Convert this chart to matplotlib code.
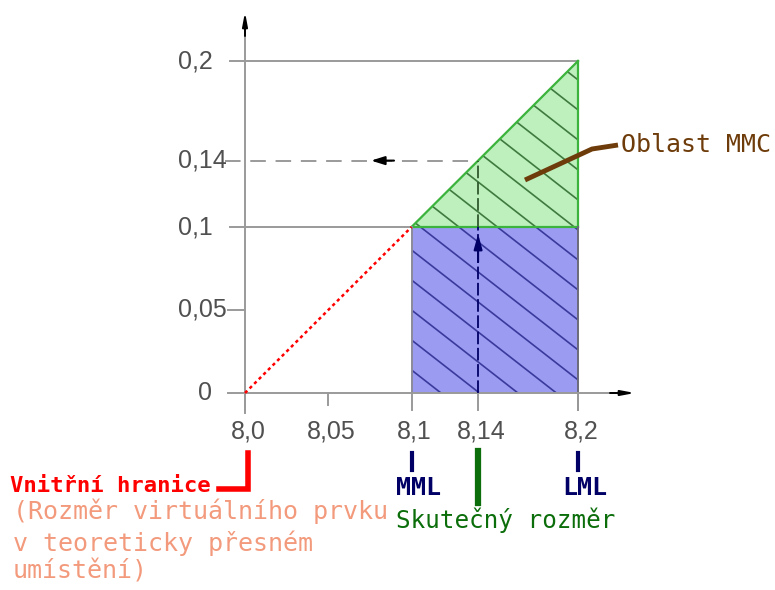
import numpy as np
import matplotlib.pyplot as plt
from matplotlib.patches import Polygon

# Data: dimension values (x) and position tolerance (y)
x_ticks = [8.0, 8.05, 8.1, 8.14, 8.2]
x_labels = ['8,0', '8,05', '8,1', '8,14', '8,2']
y_ticks = [0, 0.05, 0.1, 0.14, 0.2]
y_labels = ['0', '0,05', '0,1', '0,14', '0,2']
inner_limit = 8.0      # Vnitřní hranice
mml = 8.1              # MML
lml = 8.2              # LML
actual = 8.14          # Skutečný rozměr
tol_base = 0.1         # tolerance at MML
tol_max = 0.2          # tolerance at LML
tol_actual = 0.14      # tolerance at actual size

# Colors
grid_col = '#9a9a9a'
blue_fill = '#9b9bf2'
green_fill = '#bdf0bd'
green_edge = '#3cb33c'
navy = '#000066'
dark_green = '#0b6e0b'
brown = '#6e3c0a'
salmon = '#f39a7c'
label_col = '#505050'

W, H = 775, 590
fig = plt.figure(figsize=(W / 100, H / 100), dpi=100)
ax = fig.add_axes([0, 0, 1, 1])

# pixel -> data mapping (x: 8.0 at px 245, 8.2 at px 578; y: 0 at px 393, 0.2 at px 61)
sx = (578 - 245) / 0.2
sy = (393 - 61) / 0.2
def px2x(p):
    return inner_limit + (p - 245) / sx
def px2y(p):
    return (393 - p) / sy

ax.set_xlim(px2x(0), px2x(W))
ax.set_ylim(px2y(H), px2y(0))
ax.axis('off')

# Tolerance zones
blue = Polygon([(mml, 0), (lml, 0), (lml, tol_base), (mml, tol_base)],
               closed=True, facecolor=blue_fill, edgecolor='none', zorder=2)
green = Polygon([(mml, tol_base), (lml, tol_base), (lml, tol_max)],
                closed=True, facecolor=green_fill, edgecolor='none', zorder=2)
ax.add_patch(blue)
ax.add_patch(green)

# Hatching lines (clipped to each zone)
slope = -0.78 * sx / sy
spacing = 30 / sy
offsets = px2y(250) + spacing * np.arange(-7, 14)
xs = np.array([mml - 0.01, lml + 0.01])
for c in offsets:
    ys = c + slope * (xs - mml)
    l1, = ax.plot(xs, ys, color='#3a3a9c', lw=1.2, zorder=3)
    l1.set_clip_path(blue)
    l2, = ax.plot(xs, ys, color='#3f7a3f', lw=1.2, zorder=3)
    l2.set_clip_path(green)

# Zone edges
ax.plot([mml, lml], [tol_base, tol_max], color=green_edge, lw=1.6, zorder=4)
ax.plot([mml, lml], [tol_base, tol_base], color=green_edge, lw=1.6, zorder=4)
ax.plot([lml, lml], [tol_base, tol_max], color=green_edge, lw=1.6, zorder=4)
ax.plot([mml, mml], [0, tol_base], color='#8a8a9a', lw=1.4, zorder=4)
ax.plot([lml, lml], [px2y(410), tol_base], color='#6a6a7a', lw=1.4, zorder=4)

# Grid lines
ax.plot([px2x(230), lml], [tol_max, tol_max], color=grid_col, lw=1.4, zorder=1)
ax.plot([px2x(230), mml], [tol_base, tol_base], color=grid_col, lw=1.4, zorder=1)
ax.plot([px2x(228), inner_limit], [0.05, 0.05], color=grid_col, lw=1.4, zorder=1)
ax.plot([px2x(225), actual], [tol_actual, tol_actual], color=grid_col, lw=1.4,
        ls=(0, (8, 5)), zorder=1)

# Axes lines with black arrow heads
ax.plot([inner_limit, inner_limit], [px2y(410), px2y(30)], color=grid_col, lw=1.4, zorder=4)
ax.plot([px2x(228), px2x(615)], [0, 0], color=grid_col, lw=1.4, zorder=4)
ax.annotate('', xy=(inner_limit, px2y(12)), xytext=(inner_limit, px2y(36)),
            arrowprops=dict(arrowstyle='-|>,head_length=0.8,head_width=0.15',
                            color='black', lw=1.4, shrinkA=0, shrinkB=0), zorder=6)
ax.annotate('', xy=(px2x(635), 0), xytext=(px2x(610), 0),
            arrowprops=dict(arrowstyle='-|>,head_length=0.8,head_width=0.15',
                            color='black', lw=1.4, shrinkA=0, shrinkB=0), zorder=6)

# Tick marks below x axis
tick_ends = [413, 405, 410, 410, 410]
for xv, te in zip(x_ticks, tick_ends):
    ax.plot([xv, xv], [0, px2y(te)], color=grid_col, lw=1.4, zorder=4)

# Red dotted line from inner limit to MML
ax.plot([inner_limit, mml], [0, tol_base], color='red', lw=1.8,
        ls=(0, (1.3, 1.3)), zorder=5)

# Actual size: vertical dashed line and arrows
ax.plot([actual, actual], [0, tol_base], color=navy, lw=1.3, ls=(0, (7, 2)), zorder=5)
ax.plot([actual, actual], [tol_base, tol_actual], color='#2f5a2f', lw=1.3,
        ls=(0, (7, 2)), zorder=5)
ax.annotate('', xy=(actual, px2y(234)), xytext=(actual, px2y(262)),
            arrowprops=dict(arrowstyle='-|>,head_length=0.9,head_width=0.25',
                            color=navy, lw=1.5, shrinkA=0, shrinkB=0), zorder=6)
ax.annotate('', xy=(px2x(371), tol_actual), xytext=(px2x(394), tol_actual),
            arrowprops=dict(arrowstyle='-|>,head_length=0.8,head_width=0.25',
                            color='black', lw=1.5, shrinkA=0, shrinkB=0), zorder=6)

# Tick labels
tick_font = ['Liberation Sans', 'DejaVu Sans']
for xv, lab in zip(x_ticks, x_labels):
    ax.text(xv + 3 / sx, px2y(432), lab, ha='center', va='center',
            fontsize=18, color=label_col, family=tick_font)
for yv, lab in zip(y_ticks, y_labels):
    if lab == '0':
        ax.text(px2x(205), yv, lab, ha='center', va='center',
                fontsize=18, color=label_col, family=tick_font)
    else:
        ax.text(px2x(178), yv, lab, ha='left', va='center',
                fontsize=18, color=label_col, family=tick_font)

# Annotations below the chart
mono = ['DejaVu Sans Mono']
ax.plot([px2x(219), px2x(248), px2x(248)], [px2y(489), px2y(489), px2y(453)],
        color='red', lw=4, solid_joinstyle='miter', zorder=5)
ax.text(px2x(10), px2y(486), 'Vnitřní hranice', ha='left', va='center',
        fontsize=16, color='red', family=mono, fontweight='bold')
ax.text(px2x(13), px2y(511), '(Rozměr virtuálního prvku', ha='left', va='center',
        fontsize=18, color=salmon, family=mono)
ax.text(px2x(13), px2y(543), 'v teoreticky přesném', ha='left', va='center',
        fontsize=18, color=salmon, family=mono)
ax.text(px2x(13), px2y(572), 'umístění)', ha='left', va='center',
        fontsize=18, color=salmon, family=mono)

for xv, lab in [(mml, 'MML'), (lml, 'LML')]:
    ax.plot([xv, xv], [px2y(453), px2y(470)], color=navy, lw=3, zorder=5)
    ax.text(xv + 7 / sx, px2y(488), lab, ha='center', va='center',
            fontsize=18, color=navy, family=mono, fontweight='bold')

ax.plot([actual, actual], [px2y(451), px2y(503)], color=dark_green, lw=4.5, zorder=5)
ax.text(px2x(506), px2y(520), 'Skutečný rozměr', ha='center', va='center',
        fontsize=17.5, color=dark_green, family=mono)

# Oblast MMC label with leader line
ax.plot([px2x(525), px2x(592), px2x(618)], [px2y(180), px2y(149), px2y(145)],
        color=brown, lw=3.5, solid_capstyle='butt', zorder=6)
ax.text(px2x(621), px2y(145), 'Oblast MMC', ha='left', va='center',
        fontsize=18, color=brown, family=mono)

plt.savefig('out.png', dpi=100)
